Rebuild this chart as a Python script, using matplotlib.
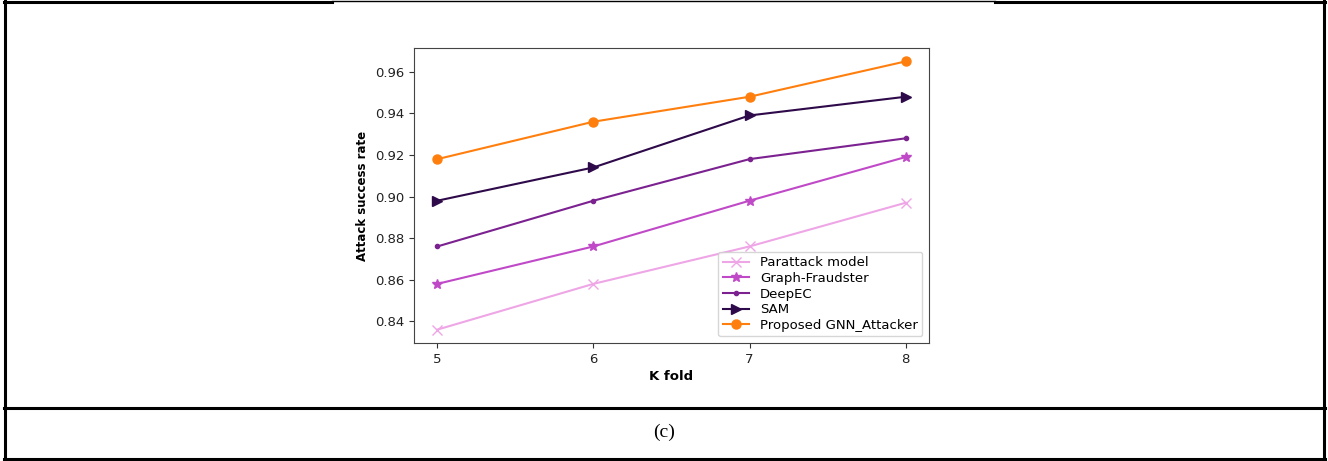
#!/usr/bin/env python3
"""Attack success rate vs K fold, panel (c)."""

import matplotlib
matplotlib.use("Agg")
import matplotlib.pyplot as plt
from matplotlib.lines import Line2D

k_fold = [5, 6, 7, 8]
parattack = [0.836, 0.858, 0.876, 0.897]
graph_fraudster = [0.858, 0.876, 0.898, 0.919]
deepec = [0.876, 0.898, 0.918, 0.928]
sam = [0.898, 0.914, 0.939, 0.948]
proposed = [0.918, 0.936, 0.948, 0.965]

series_names = ["Parattack model", "Graph-Fraudster", "DeepEC", "SAM",
                "Proposed GNN_Attacker"]
series_values = [parattack, graph_fraudster, deepec, sam, proposed]
series_colors = ["#eea6e6", "#c049c8", "#7b2190", "#2e0a4a", "#ff7f0e"]
series_markers = ["x", "*", ".", ">", "o"]
series_msize = [6.5, 7, 6, 7, 6.5]

W, H = 1328, 461
fig = plt.figure(figsize=(W / 100, H / 100), dpi=100)
ax = fig.add_axes([414 / W, 1 - 343 / H, (929 - 414) / W, (343 - 48) / H])

for name, vals, col, mk, ms in zip(series_names, series_values, series_colors,
                                   series_markers, series_msize):
    ax.plot(k_fold, vals, color=col, marker=mk, markersize=ms, linewidth=1.5,
            label=name)

ax.set_xticks(k_fold)
ax.set_yticks([0.84, 0.86, 0.88, 0.90, 0.92, 0.94, 0.96])
ax.tick_params(labelsize=9.5, colors="#333333", labelcolor="#222222")
ax.set_xlabel("K fold", fontsize=9.5, fontweight="bold", labelpad=3)
ax.set_ylabel("Attack success rate", fontsize=8.5, fontweight="bold", labelpad=4)
for sp in ax.spines.values():
    sp.set_color("#444444")
ax.legend(loc="lower right", fontsize=9.5, handlelength=2.0, labelspacing=0.2,
          borderpad=0.35, frameon=True)

# table-like frame around the figure
def hline(x0, x1, y, lw):
    fig.add_artist(Line2D([x0 / W, x1 / W], [1 - y / H, 1 - y / H],
                          color="black", linewidth=lw, transform=fig.transFigure))

def vline(x, y0, y1, lw):
    fig.add_artist(Line2D([x / W, x / W], [1 - y0 / H, 1 - y1 / H],
                          color="black", linewidth=lw, transform=fig.transFigure))

hline(4, 332, 2, 2.2)
hline(332, 995, 1.5, 1.0)
hline(995, 1325, 2, 2.2)
hline(4, 1325, 407.5, 2.2)
hline(4, 1325, 458.5, 2.2)
vline(5, 1, 459, 2.2)
vline(1323.5, 1, 459, 2.2)

fig.text(664 / W, 1 - 432 / H, "(c)", ha="center", va="center", fontsize=14,
         family="Liberation Serif")

fig.savefig("out.png", dpi=100)
plt.close(fig)
